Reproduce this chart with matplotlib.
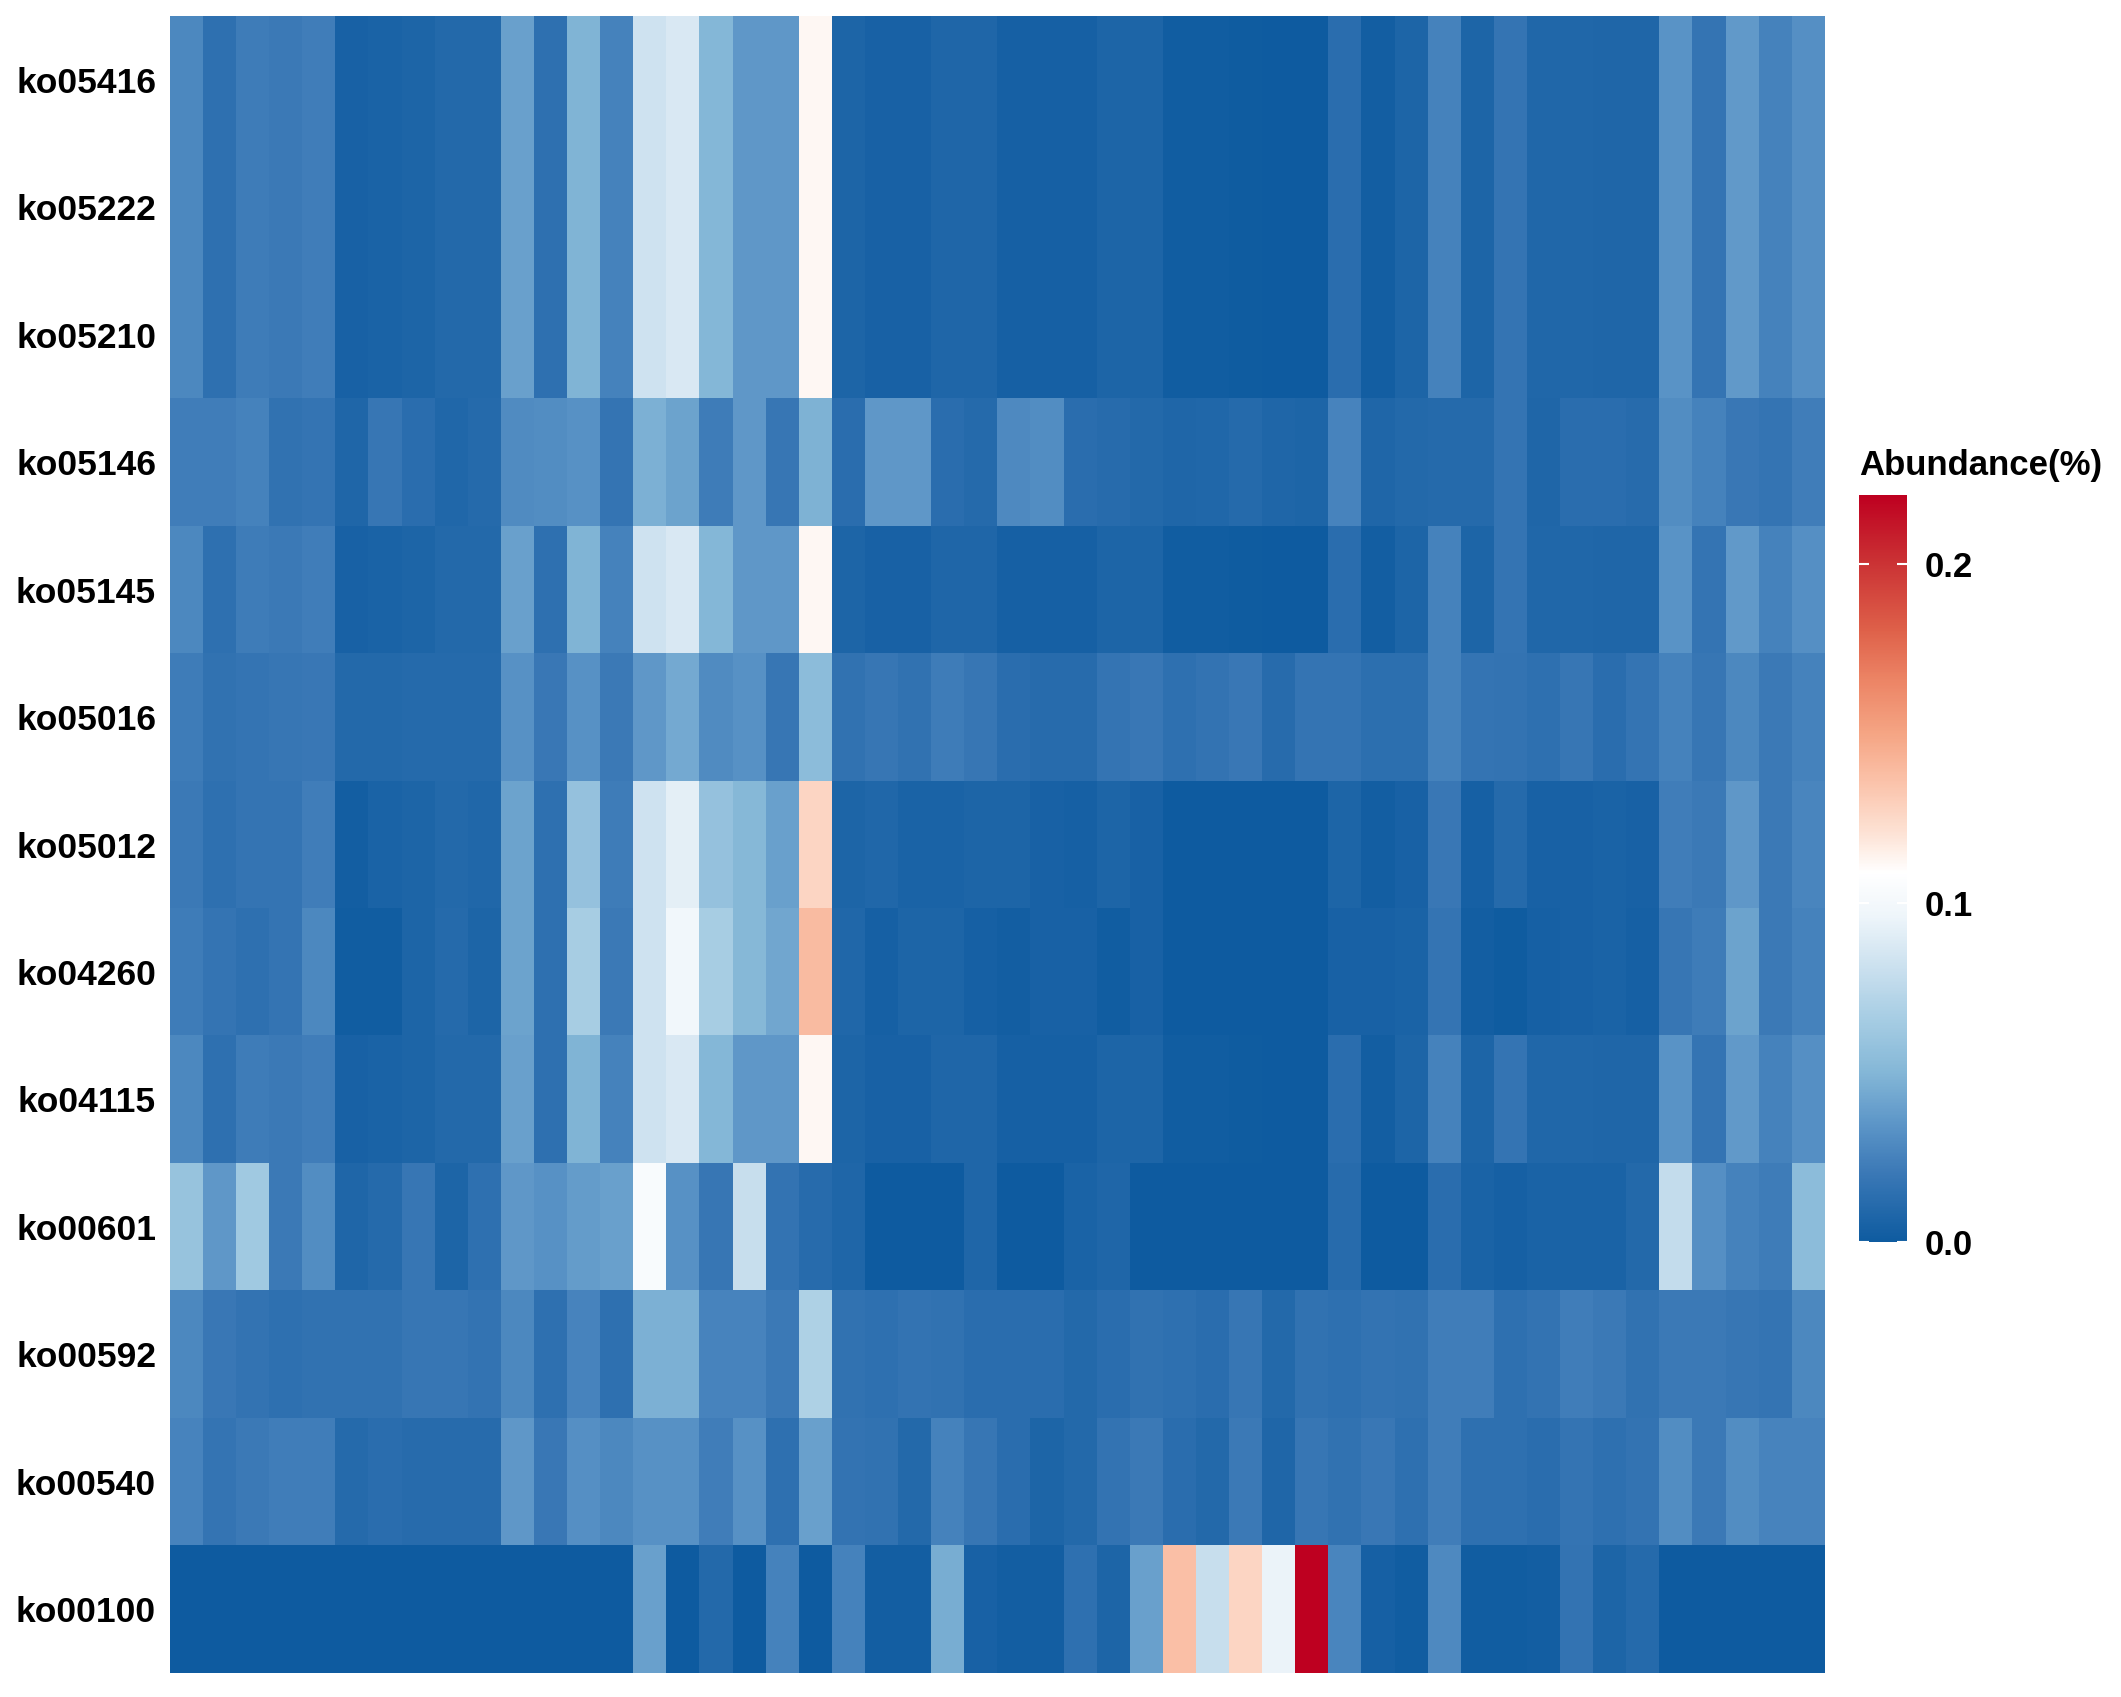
import numpy as np
import matplotlib
matplotlib.use("Agg")
import matplotlib.pyplot as plt
from matplotlib.colors import LinearSegmentedColormap

plt.rcParams['font.family'] = ['Liberation Sans', 'DejaVu Sans']

rows = ["ko05416", "ko05222", "ko05210", "ko05146", "ko05145", "ko05016",
        "ko05012", "ko04260", "ko04115", "ko00601", "ko00592", "ko00540", "ko00100"]

ko05416 = [0.028, 0.015, 0.022, 0.021, 0.023, 0.005, 0.006, 0.007, 0.010, 0.010, 0.040, 0.015, 0.049,
           0.025, 0.083, 0.087, 0.050, 0.036, 0.036, 0.112, 0.007, 0.005, 0.005, 0.008, 0.008, 0.004,
           0.004, 0.004, 0.007, 0.007, 0.002, 0.002, 0.001, 0.000, 0.000, 0.013, 0.003, 0.007,
           0.025, 0.007, 0.018, 0.009, 0.009, 0.008, 0.008, 0.034, 0.018, 0.037, 0.025, 0.032]
ko05222 = list(ko05416)
ko05210 = list(ko05416)
ko05146 = [0.023, 0.023, 0.025, 0.016, 0.018, 0.008, 0.019, 0.013, 0.009, 0.011, 0.030, 0.031, 0.033,
           0.018, 0.047, 0.041, 0.022, 0.036, 0.019, 0.048, 0.013, 0.036, 0.036, 0.013, 0.011, 0.029,
           0.031, 0.013, 0.012, 0.010, 0.008, 0.009, 0.011, 0.008, 0.007, 0.026, 0.008, 0.010,
           0.011, 0.011, 0.018, 0.008, 0.013, 0.013, 0.012, 0.031, 0.025, 0.020, 0.018, 0.023]
ko05145 = list(ko05416)
ko05016 = [0.022, 0.016, 0.018, 0.019, 0.020, 0.010, 0.010, 0.011, 0.011, 0.011, 0.033, 0.020, 0.033,
           0.021, 0.036, 0.044, 0.030, 0.033, 0.019, 0.054, 0.016, 0.019, 0.016, 0.022, 0.019, 0.013,
           0.012, 0.012, 0.018, 0.020, 0.015, 0.017, 0.020, 0.012, 0.018, 0.018, 0.014, 0.014,
           0.025, 0.018, 0.017, 0.015, 0.019, 0.013, 0.018, 0.025, 0.019, 0.028, 0.021, 0.025]
ko05012 = [0.021, 0.015, 0.018, 0.018, 0.023, 0.003, 0.006, 0.007, 0.010, 0.009, 0.041, 0.015, 0.058,
           0.022, 0.083, 0.092, 0.058, 0.051, 0.040, 0.127, 0.007, 0.009, 0.006, 0.006, 0.007, 0.007,
           0.005, 0.004, 0.007, 0.005, 0.000, 0.000, 0.000, 0.000, 0.000, 0.007, 0.003, 0.005,
           0.020, 0.004, 0.011, 0.005, 0.005, 0.006, 0.005, 0.023, 0.021, 0.036, 0.021, 0.027]
ko04260 = [0.022, 0.018, 0.015, 0.018, 0.028, 0.002, 0.002, 0.007, 0.011, 0.007, 0.041, 0.015, 0.066,
           0.021, 0.083, 0.099, 0.066, 0.051, 0.043, 0.139, 0.009, 0.004, 0.007, 0.007, 0.004, 0.003,
           0.005, 0.005, 0.002, 0.005, 0.000, 0.000, 0.000, 0.000, 0.000, 0.005, 0.005, 0.006,
           0.018, 0.003, 0.001, 0.004, 0.005, 0.006, 0.004, 0.019, 0.022, 0.041, 0.021, 0.025]
ko04115 = list(ko05416)
ko00601 = [0.059, 0.036, 0.063, 0.021, 0.031, 0.008, 0.011, 0.019, 0.007, 0.015, 0.036, 0.033, 0.038,
           0.040, 0.104, 0.033, 0.019, 0.080, 0.017, 0.012, 0.008, 0.000, 0.000, 0.000, 0.008, 0.000,
           0.000, 0.006, 0.008, 0.000, 0.000, 0.000, 0.000, 0.000, 0.000, 0.012, 0.000, 0.000,
           0.013, 0.006, 0.004, 0.006, 0.006, 0.006, 0.010, 0.078, 0.032, 0.025, 0.022, 0.054]
ko00592 = [0.028, 0.020, 0.017, 0.015, 0.016, 0.016, 0.016, 0.019, 0.019, 0.017, 0.028, 0.015, 0.026,
           0.015, 0.047, 0.047, 0.026, 0.026, 0.021, 0.069, 0.016, 0.015, 0.017, 0.016, 0.013, 0.013,
           0.013, 0.010, 0.013, 0.016, 0.015, 0.013, 0.019, 0.010, 0.016, 0.015, 0.017, 0.016,
           0.023, 0.023, 0.015, 0.017, 0.023, 0.021, 0.016, 0.021, 0.021, 0.019, 0.018, 0.028]
ko00540 = [0.026, 0.018, 0.021, 0.023, 0.023, 0.011, 0.013, 0.012, 0.012, 0.012, 0.036, 0.020, 0.032,
           0.028, 0.033, 0.033, 0.023, 0.033, 0.015, 0.040, 0.017, 0.016, 0.010, 0.025, 0.019, 0.013,
           0.007, 0.010, 0.017, 0.021, 0.013, 0.010, 0.021, 0.008, 0.019, 0.016, 0.020, 0.015,
           0.023, 0.015, 0.015, 0.013, 0.018, 0.015, 0.017, 0.031, 0.021, 0.031, 0.026, 0.026]
ko00100 = [0.0] * 13 + \
          [0.000, 0.040, 0.000, 0.010, 0.000, 0.025, 0.000, 0.025, 0.003, 0.003, 0.046, 0.005, 0.003,
           0.003, 0.015, 0.007, 0.040, 0.137, 0.080, 0.127, 0.095, 0.2205, 0.027, 0.004, 0.002,
           0.029, 0.002, 0.002, 0.003, 0.017, 0.007, 0.011, 0.000, 0.000, 0.000, 0.000, 0.000]

data = np.array([ko05416, ko05222, ko05210, ko05146, ko05145, ko05016, ko05012,
                 ko04260, ko04115, ko00601, ko00592, ko00540, ko00100])

vmin, vmax = 0.0, 0.2205
nodes = [(0.000, "#0E5BA0"), (0.020, "#3A78B6"), (0.035, "#5D96C8"), (0.050, "#84B7D7"),
         (0.065, "#A5CCE3"), (0.080, "#C8DFEE"), (0.096, "#EEF5FA"), (0.109, "#FFFFFF"),
         (0.120, "#FDE4D7"), (0.135, "#FBC4AC"), (0.150, "#F5A584"), (0.166, "#EC8465"),
         (0.181, "#DE6049"), (0.200, "#CB3435"), (0.2205, "#BE0020")]
cmap = LinearSegmentedColormap.from_list("abund", [(v / vmax, c) for v, c in nodes], N=512)

W, H = 2121, 1697
fig = plt.figure(figsize=(W / 100, H / 100), dpi=100)
ax = fig.add_axes([170 / W, 1 - 1673 / H, (1825 - 170) / W, (1673 - 16) / H])
im = ax.imshow(data, cmap=cmap, vmin=vmin, vmax=vmax, aspect='auto', interpolation='nearest')
ax.set_yticks(range(len(rows)))
ax.set_yticklabels(rows, fontsize=25.5, fontweight='bold')
ax.set_xticks([])
ax.tick_params(axis='y', length=0, pad=10)
for s in ax.spines.values():
    s.set_visible(False)

cax = fig.add_axes([1859 / W, 1 - 1242 / H, 48 / W, (1242 - 495) / H])
cb = fig.colorbar(im, cax=cax, ticks=[0.0, 0.1, 0.2])
cb.outline.set_visible(False)
cb.ax.set_yticklabels(["0.0", "0.1", "0.2"], fontsize=25, fontweight='bold')
cb.ax.tick_params(axis='y', which='both', left=True, right=True, labelleft=False, labelright=True,
                  direction='in', color='white', length=7, width=1.5, pad=13)
cb.ax.minorticks_off()

fig.text(1859 / W, 1 - 475 / H, "Abundance(%)", fontsize=25, fontweight='bold',
         ha='left', va='baseline')

fig.savefig("out.png", dpi=100)
